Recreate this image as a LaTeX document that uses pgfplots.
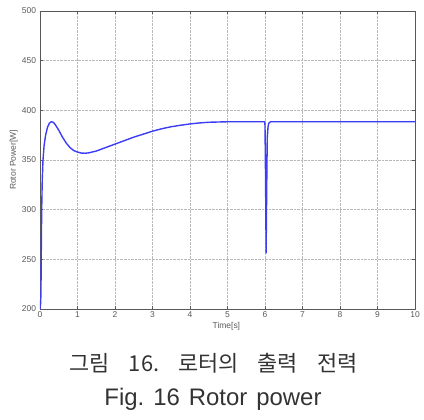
\documentclass[border=0pt]{standalone}
\usepackage{fontspec}
\setmainfont{Liberation Sans}
\newfontfamily\kr{Noto Sans CJK KR}
\usepackage{pgfplots}
\pgfplotsset{compat=1.18}
\definecolor{lineblue}{RGB}{60,60,245}
\begin{document}
\begin{tikzpicture}[x=1bp,y=1bp]
\useasboundingbox (-40,-111) rectangle (384,309);
\begin{axis}[
  at={(0,0)}, anchor=south west,
  scale only axis, width=375bp, height=298bp,
  xmin=0, xmax=10, ymin=200, ymax=500,
  xtick={0,1,...,10}, ytick={200,250,...,500},
  grid=major,
  major grid style={gray!55, densely dotted, line width=0.5pt},
  axis line style={gray!70!black, line width=0.5pt},
  tick style={gray!70!black, line width=0.4pt},
  tick align=inside, major tick length=3bp,
  /pgf/number format/assume math mode=true,
  ticklabel style={font=\fontsize{8.5}{9}\selectfont, text=black!65},
  xticklabel style={yshift=1bp},
  yticklabel style={xshift=-0.5bp},
  xlabel={Time[s]}, ylabel={Rotor Power[W]},
  label style={font=\fontsize{8.5}{9}\selectfont, text=black!65},
  xlabel style={at={(axis description cs:0.497,0)}, anchor=center, yshift=-17.5bp},
  ylabel style={at={(axis description cs:-0.07,0.5)}, anchor=center},
]
\addplot[lineblue, line width=1.4pt] coordinates {
(0,200) (0.015,205) (0.025,215) (0.035,260) (0.045,300) (0.06,330) (0.08,350) (0.11,365)
(0.15,375) (0.2,383) (0.25,387) (0.3,388.5) (0.35,388) (0.4,386) (0.5,380) (0.6,373)
(0.7,367) (0.8,362.5) (0.9,359.5) (1.0,358) (1.1,357) (1.2,356.8) (1.3,357.2) (1.5,359)
(1.75,362.5) (2.0,366) (2.25,369.5) (2.5,373) (2.75,376) (3.0,379) (3.25,381.5)
(3.5,383.5) (3.75,385) (4.0,386.3) (4.25,387.3) (4.5,388) (5.0,388.5) (5.5,388.5)
(5.99,388.5) (6.0,385) (6.015,330) (6.03,256) (6.045,320) (6.06,372) (6.08,383)
(6.1,387) (6.15,388.5) (7,388.5) (8,388.5) (9,388.5) (10,388.5)
};
\end{axis}
\node[font=\kr\fontsize{22}{24}\selectfont, text=black!80, anchor=base] at (173.5,-62) {그림\hspace{19bp}16.\hspace{19bp}로터의\hspace{19bp}출력\hspace{19bp}전력};
\node[font=\fontsize{24}{28}\selectfont, text=black!80, anchor=base] at (173,-96) {Fig.\hspace{9bp}16\hspace{9bp}Rotor\hspace{9bp}power};
\end{tikzpicture}
\end{document}
